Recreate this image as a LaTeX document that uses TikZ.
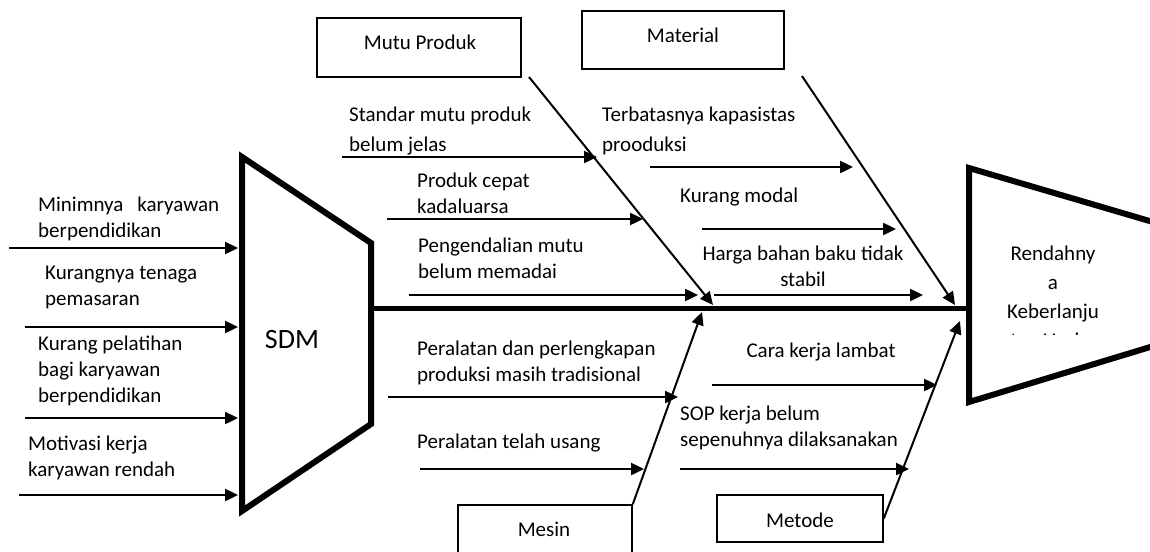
\documentclass[tikz,border=0pt]{standalone}
\usepackage{fontspec}
\setmainfont{Carlito}
\usetikzlibrary{arrows.meta}
\begin{document}
\begin{tikzpicture}[x=1pt,y=-1pt,
  cause/.style={line width=2.4pt,-{Triangle[length=13pt,width=12pt]}},
  bone/.style={line width=2pt,-{Triangle[length=13pt,width=12pt]}},
  lbl/.style={inner sep=0pt,font=\fontsize{21}{26}\selectfont,align=left,anchor=base west},
  widelbl/.style={lbl,font=\fontsize{21}{30}\selectfont},
  clbl/.style={lbl,align=center,anchor=base},
  catbox/.style={draw,line width=1.5pt,inner sep=0pt},
  heavy/.style={line width=6pt,line join=miter},
  spine/.style={line width=5pt}]
\clip (0,0) rectangle (1150,551);

% SDM block (left) and problem head (right)
\draw[heavy] (242,157) -- (371,243) -- (371,424) -- (242,511) -- cycle;
\node[inner sep=0pt,font=\fontsize{28}{32}\selectfont,anchor=base] (sdm) at (292,348) {SDM};
\draw[heavy] (1170,227) -- (969,168) -- (969,402) -- (1170,341);
% the last line of the head text is cut off by its frame
\begin{scope}
  \clip (960,150) rectangle (1150,334);
  \node[inner sep=0pt,font=\fontsize{21}{29}\selectfont,align=center,anchor=base] (head) at (1053,347)
    {Rendahny\\a\\Keberlanju\\tan Usaha};
\end{scope}

% main spine
\coordinate (spS) at (371,308);
\coordinate (spE) at (969,308);
\draw[spine] (spS) -- (spE);

% category boxes
\node[catbox,minimum width=204pt,minimum height=59pt] (mutu) at (419,47.5) {};
\node[clbl] (mutuT) at (420,49) {Mutu Produk};
\node[catbox,minimum width=202pt,minimum height=58pt] (mat) at (683,40) {};
\node[clbl] (matT) at (683,43) {Material};
\node[catbox,minimum width=174pt,minimum height=95pt] (mesin) at (545,552.5) {};
\node[clbl] (mesinT) at (544,536) {Mesin};
\node[catbox,minimum width=166pt,minimum height=47pt] (metode) at (800,518.5) {};
\node[clbl] (metodeT) at (800,527) {Metode};

% bones to the spine
\coordinate (mutuS) at (529,77);   \coordinate (mutuE) at (713,305);
\coordinate (matS) at (802,76);    \coordinate (matE) at (955,305);
\coordinate (mesinE) at (702,312);
\coordinate (metE) at (960,321);
\draw[bone] (mutuS) -- (mutuE);
\draw[bone] (matS) -- (matE);
\draw[bone] (mesin.north east) -- (mesinE);
\draw[bone] (metode.east) -- (metE);

% SDM causes (anchors sit on the last text line)
\node[lbl] (l1) at (38,237) {Minimnya\hspace{14pt}karyawan\\berpendidikan};
\node[lbl] (l2) at (45,305) {Kurangnya tenaga\\pemasaran};
\node[lbl] (l3) at (38,402) {Kurang pelatihan\\bagi karyawan\\berpendidikan};
\node[lbl] (l4) at (28,476) {Motivasi kerja\\karyawan rendah};
\coordinate (a1s) at (9,248);  \coordinate (a1e) at (238,248);
\coordinate (a2s) at (25,327); \coordinate (a2e) at (238,327);
\coordinate (a3s) at (25,418); \coordinate (a3e) at (238,418);
\coordinate (a4s) at (19,495); \coordinate (a4e) at (238,495);
\draw[cause] (a1s) -- (a1e);
\draw[cause] (a2s) -- (a2e);
\draw[cause] (a3s) -- (a3e);
\draw[cause] (a4s) -- (a4e);

% Mutu Produk causes
\node[widelbl] (u1) at (349,151) {Standar mutu produk\\belum jelas};
\node[lbl] (u2) at (417,213) {Produk cepat\\kadaluarsa};
\node[lbl] (u3) at (418,278) {Pengendalian mutu\\belum memadai};
\coordinate (u1s) at (342,157); \coordinate (u1e) at (597,157);
\coordinate (u2s) at (387,219); \coordinate (u2e) at (643,219);
\coordinate (u3s) at (409,295); \coordinate (u3e) at (698,295);
\draw[cause] (u1s) -- (u1e);
\draw[cause] (u2s) -- (u2e);
\draw[cause] (u3s) -- (u3e);

% Material causes
\node[widelbl] (m1) at (602,151) {Terbatasnya kapasistas\\prooduksi};
\node[lbl] (m2) at (680,202) {Kurang modal};
\node[clbl] (m3) at (803,286) {Harga bahan baku tidak\\stabil};
\coordinate (m1s) at (650,167); \coordinate (m1e) at (853,167);
\coordinate (m2s) at (702,229); \coordinate (m2e) at (896,229);
\coordinate (m3s) at (714,295); \coordinate (m3e) at (923,295);
\draw[cause] (m1s) -- (m1e);
\draw[cause] (m2s) -- (m2e);
\draw[cause] (m3s) -- (m3e);

% Mesin causes
\node[lbl] (d1) at (417,381) {Peralatan dan perlengkapan\\produksi masih tradisional};
\node[lbl] (d2) at (417,448) {Peralatan telah usang};
\coordinate (d1s) at (388,397); \coordinate (d1e) at (678,397);
\coordinate (d2s) at (420,469); \coordinate (d2e) at (644,469);
\draw[cause] (d1s) -- (d1e);
\draw[cause] (d2s) -- (d2e);

% Metode causes
\node[clbl] (e1) at (821,357) {Cara kerja lambat};
\node[lbl] (e2) at (680,446) {SOP kerja belum\\sepenuhnya dilaksanakan};
\coordinate (e1s) at (712,385); \coordinate (e1e) at (937,385);
\coordinate (e2s) at (680,469); \coordinate (e2e) at (909,469);
\draw[cause] (e1s) -- (e1e);
\draw[cause] (e2s) -- (e2e);
\end{tikzpicture}
\end{document}
